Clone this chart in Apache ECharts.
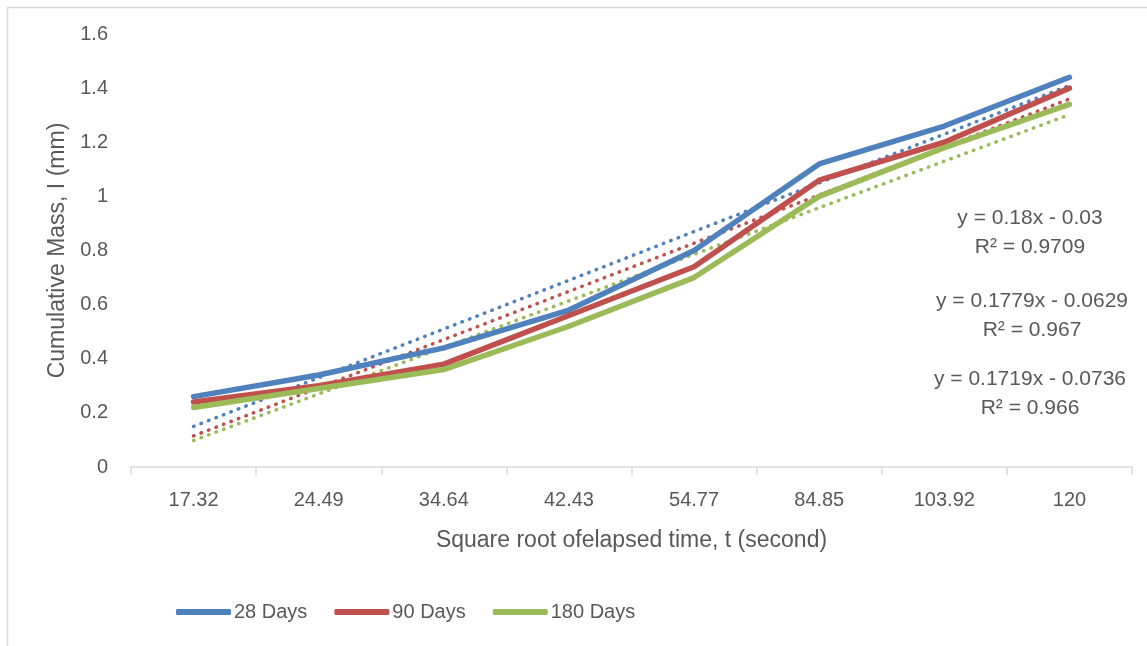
<!DOCTYPE html>
<html>
<head>
<meta charset="utf-8">
<script src="https://cdn.jsdelivr.net/npm/echarts@6/dist/echarts.min.js"></script>
<style>
  html, body { margin: 0; padding: 0; background: #fff; }
  #main { width: 1147px; height: 646px; }
</style>
</head>
<body>
<div id="main"></div>
<script>
var chart = echarts.init(document.getElementById('main'));

// data
var categories = ['17.32', '24.49', '34.64', '42.43', '54.77', '84.85', '103.92', '120'];
var days28 = [0.26, 0.34, 0.44, 0.58, 0.80, 1.12, 1.26, 1.44];
var days90 = [0.24, 0.30, 0.38, 0.56, 0.74, 1.06, 1.20, 1.40];
var days180 = [0.22, 0.29, 0.36, 0.52, 0.70, 1.00, 1.18, 1.34];
// linear trendlines (Excel), values as drawn
var trend28 = [0.15, 0.33, 0.51, 0.69, 0.87, 1.05, 1.23, 1.41];
var trend90 = [0.115, 0.293, 0.471, 0.649, 0.827, 1.005, 1.182, 1.36];
var trend180 = [0.098, 0.27, 0.442, 0.614, 0.786, 0.958, 1.13, 1.302];
var eqTexts = [
  'y = 0.18x - 0.03\nR² = 0.9709',
  'y = 0.1779x - 0.0629\nR² = 0.967',
  'y = 0.1719x - 0.0736\nR² = 0.966'
];

var blue = '#4F81BD', red = '#C0504D', green = '#9BBB59';
var txt = '#595959';
var font = 'Liberation Sans, Arial, sans-serif';

function mainLine(name, data, color) {
  return {
    name: name, type: 'line', data: data, symbol: 'none',
    lineStyle: { color: color, width: 5.5, cap: 'round', join: 'round' },
    itemStyle: { color: color }, z: 3
  };
}
function trendLine(data, color) {
  return {
    type: 'line', data: data, symbol: 'none', silent: true,
    lineStyle: { color: color, width: 3.5, type: [0.5, 7.5], cap: 'round' },
    z: 2
  };
}

var option = {
  animation: false,
  textStyle: { fontFamily: font },
  grid: { left: 131, right: 15, top: 34, bottom: 179 },
  legend: {
    data: ['28 Days', '90 Days', '180 Days'],
    left: 171, top: 597,
    itemWidth: 55, itemHeight: 6, itemGap: 27,
    icon: 'roundRect',
    textStyle: { color: txt, fontSize: 20, fontFamily: font, padding: [0, 0, 0, -2] }
  },
  xAxis: {
    type: 'category',
    data: categories,
    boundaryGap: true,
    axisLine: { lineStyle: { color: '#d9d9d9', width: 1.5 } },
    axisTick: { show: true, length: 8, lineStyle: { color: '#d9d9d9', width: 1.5 } },
    axisLabel: { color: txt, fontSize: 20, margin: 23 },
    name: 'Square root ofelapsed time, t (second)',
    nameLocation: 'middle', nameGap: 62,
    nameTextStyle: { color: txt, fontSize: 23 }
  },
  yAxis: {
    type: 'value', min: 0, max: 1.6, interval: 0.2,
    axisLine: { show: false },
    axisTick: { show: false },
    splitLine: { show: false },
    axisLabel: { color: txt, fontSize: 20, margin: 23 },
    name: 'Cumulative Mass, I (mm)',
    nameLocation: 'middle', nameGap: 62,
    nameTextStyle: { color: txt, fontSize: 23 }
  },
  graphic: [
    { type: 'rect', left: 5, top: 5, shape: { width: 1200, height: 700 },
      style: { fill: 'none', stroke: '#d9d9d9', lineWidth: 1.5 }, silent: true },
    { type: 'text', x: 1030, y: 204, style: { text: eqTexts[0], fill: txt, font: '21px ' + font, align: 'center', lineHeight: 29 } },
    { type: 'text', x: 1032, y: 287, style: { text: eqTexts[1], fill: txt, font: '21px ' + font, align: 'center', lineHeight: 29 } },
    { type: 'text', x: 1030, y: 365, style: { text: eqTexts[2], fill: txt, font: '21px ' + font, align: 'center', lineHeight: 29 } }
  ],
  series: [
    trendLine(trend28, blue),
    trendLine(trend90, red),
    trendLine(trend180, green),
    mainLine('28 Days', days28, blue),
    mainLine('90 Days', days90, red),
    mainLine('180 Days', days180, green)
  ]
};

chart.setOption(option);
</script>
</body>
</html>
